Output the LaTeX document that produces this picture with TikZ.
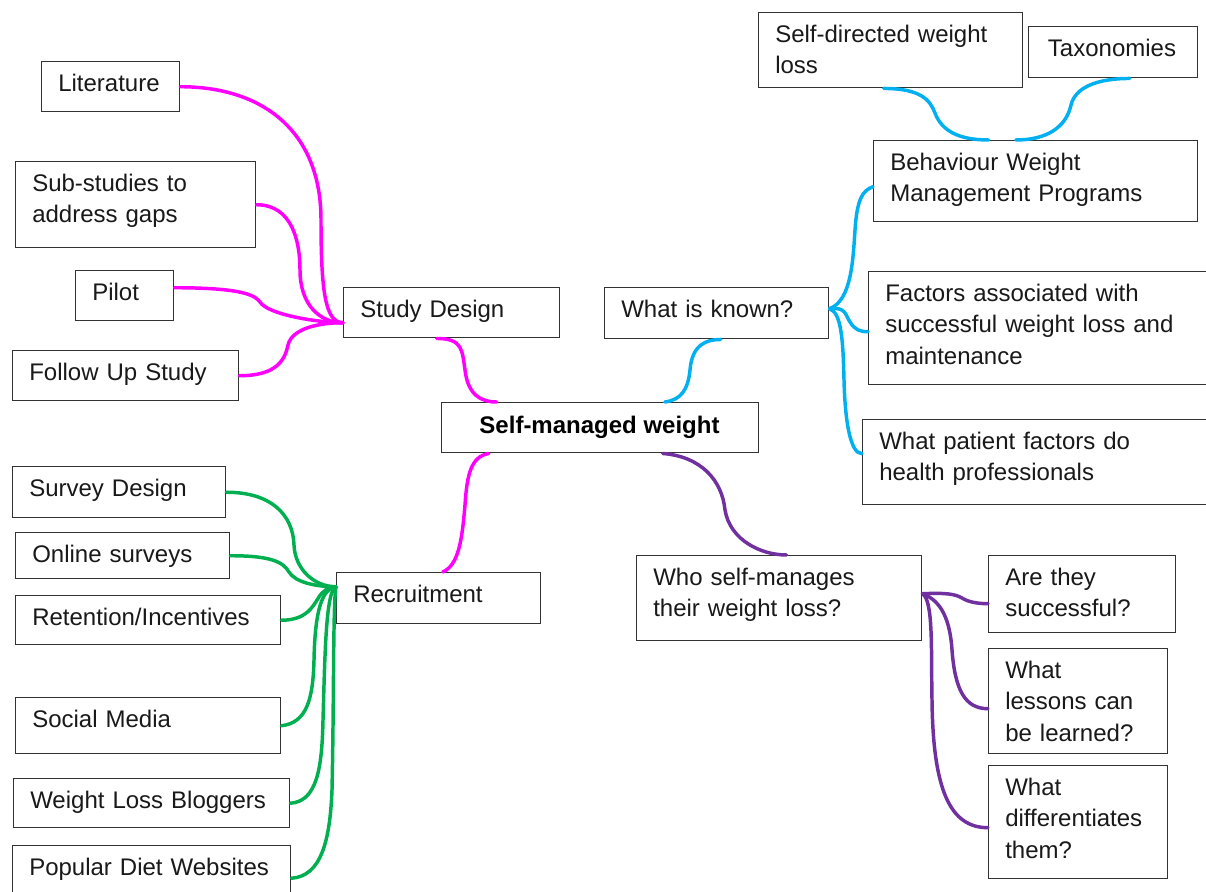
\documentclass[tikz,border=0pt]{standalone}
\usepackage{fontspec}
\setmainfont{Liberation Sans}
\usetikzlibrary{calc}
\definecolor{mag}{HTML}{FF00FF}
\definecolor{cya}{HTML}{00B0F0}
\definecolor{grn}{HTML}{00B050}
\definecolor{pur}{HTML}{7030A0}
\definecolor{edge}{HTML}{333333}
\tikzset{
  box/.style={draw=edge, line width=1.1pt, rectangle, anchor=north west, inner sep=0pt},
  txt/.style={font=\fontsize{18}{23.6}\selectfont, inner sep=0pt, anchor=base west, align=left, text width=12cm, text=black!90},
  conn/.style={line width=2.6pt, line cap=round},
  pk/.style={conn, draw=mag},
  cy/.style={conn, draw=cya},
  gr/.style={conn, draw=grn},
  pu/.style={conn, draw=pur}
}
\newcommand\mmbox[6]{%
  \node[box, minimum width={(#4-#2)*0.75pt}, minimum height={(#5-#3)*0.75pt}] (#1) at (#2,#3) {};
  \node[txt] (#1-t) at (#2+17,#3+30.5) {#6};}
\begin{document}
\begin{tikzpicture}[x=0.75pt, y=-0.75pt]
\useasboundingbox (0,0) rectangle (1206,892);
\clip (0,0) rectangle (1206,892);
\fill[white] (0,0) rectangle (1206,892);

% left top cluster
\mmbox{lit}{41}{61}{179}{111}{Literature}
\mmbox{sub}{15}{161}{255}{247}{Sub-studies to\\address gaps}
\mmbox{pilot}{75}{270}{173}{320}{Pilot}
\mmbox{fol}{12}{350}{238}{400}{Follow Up Study}
\mmbox{study}{343}{287}{559}{337}{Study Design}

% right top cluster
\mmbox{wk}{604}{287}{828}{338}{What is known?}
\mmbox{sd}{758}{12}{1022}{87}{Self-directed weight\\loss}
\mmbox{tax}{1028}{26}{1197}{77}{\hspace*{2pt}Taxonomies}
\mmbox{bwm}{873}{140}{1197}{221}{Behaviour Weight\\Management Programs}
\mmbox{fac}{868}{271}{1215}{384}{Factors associated with\\successful weight loss and\\maintenance}
\mmbox{pat}{862}{419}{1215}{504}{What patient factors do\\health professionals}

% centre
\node[box, minimum width={(758-441)*0.75pt}, minimum height={(452-402)*0.75pt}] (self) at (441,402) {};
\node[font=\fontsize{18}{23.6}\selectfont\bfseries, inner sep=0pt, anchor=base] (self-t) at (599.5,433) {Self-managed weight};

% bottom left cluster
\mmbox{sur}{12}{466}{225}{517}{Survey Design}
\mmbox{onl}{15}{532}{229}{578}{Online surveys}
\mmbox{ret}{15}{595}{280}{644}{Retention/Incentives}
\mmbox{soc}{15}{697}{280}{753}{Social Media}
\mmbox{blo}{13}{778}{289}{827}{Weight Loss Bloggers}
\mmbox{pop}{12}{845}{290}{910}{Popular Diet Websites}
\mmbox{recr}{336}{572}{540}{623}{Recruitment}

% bottom right cluster
\mmbox{who}{636}{555}{921}{640}{Who self-manages\\their weight loss?}
\mmbox{are}{988}{555}{1175}{632}{Are they\\successful?}
\mmbox{les}{988}{648}{1167}{753}{What\\lessons can\\be learned?}
\mmbox{dif}{988}{765}{1167}{878}{What\\differentiates\\them?}

% hubs
\coordinate (h1) at ([yshift=-7.5pt]study.west);
\coordinate (h2) at ([yshift=3.4pt]wk.east);
\coordinate (h3) at ([yshift=3.4pt]who.east);
\coordinate (h4) at ([yshift=8.6pt]recr.west);

% magenta
\draw[pk] (lit.east) .. controls +(81,0) and (321,130) .. (321,220) .. controls (321,290) and +(-18,0) .. (h1);
\draw[pk] (sub.east) .. controls +(35,0) and (300,240) .. (300,270) .. controls (300,305) and +(-23,0) .. (h1);
\draw[pk] ([yshift=6pt]pilot.east) .. controls +(67,0) and (255,295) .. (260,302) .. controls (268,315) and +(-23,0) .. (h1);
\draw[pk] (fol.east) .. controls +(37,0) and (285,360) .. (288,345) .. controls (292,328) and +(-23,0) .. (h1);
\draw[pk] ([xshift=-11.25pt]study.south) .. controls +(26,0) and (462,350) .. (465,370) .. controls (468,395) and +(-16,0) .. ([xshift=-77.6pt]self.north);
\draw[pk] ([xshift=-83.6pt]self.south) .. controls +(-18,3) and (467,475) .. (465,505) .. controls (462,540) and +(16,-7) .. ([xshift=3pt]recr.north);

% cyan
\draw[cy] ([xshift=48.4pt]self.north) .. controls +(16,-2) and (688,390) .. (690,370) .. controls (692,345) and +(-15,0) .. ([xshift=3pt]wk.south);
\draw[cy] (h2) .. controls +(22,-8) and (853,260) .. (855,230) .. controls (857,200) and +(-11,4) .. ([yshift=-4.1pt]bwm.west);
\draw[cy] (h2) .. controls +(17,-2) and (845,315) .. (850,322) .. controls (855,330) and +(-8,0) .. ([yshift=-2.6pt]fac.west);
\draw[cy] (h2) .. controls +(12,4) and (843,340) .. (844,380) .. controls (845,420) and +(-12,0) .. ([yshift=6.4pt]pat.west);
\draw[cy] ([xshift=-5.25pt]sd.south) .. controls +(37,0) and (930,100) .. (935,113) .. controls (942,132) and +(-28,0) .. ([xshift=-35.25pt]bwm.north);
\draw[cy] ([xshift=12.4pt]tax.south) .. controls +(-34,0) and (1075,88) .. (1071,105) .. controls (1066,128) and +(30,0) .. ([xshift=-15pt]bwm.north);

% purple
\draw[pu] ([xshift=46.9pt]self.south) .. controls +(38,3) and (722,480) .. (725,510) .. controls (730,540) and +(-26,0) .. ([xshift=5.6pt]who.north);
\draw[pu] (h3) .. controls +(24,-1) and (955,594) .. (962,598) .. controls (968,602) and +(-10,0) .. ([yshift=-7.1pt]are.west);
\draw[pu] (h3) .. controls +(19,7) and (950,620) .. (952,650) .. controls (955,690) and +(-23,0) .. ([yshift=-5.6pt]les.west);
\draw[pu] (h3) .. controls +(11,7) and (931,650) .. (932,700) .. controls (933,790) and +(-38,0) .. ([yshift=-4.1pt]dif.west);

% green
\draw[gr] (sur.east) .. controls +(45,0) and (293,515) .. (294,545) .. controls (295,570) and +(-21,0) .. (h4);
\draw[gr] (onl.east) .. controls +(41,0) and (283,562) .. (289,572) .. controls (295,582) and +(-21,0) .. (h4);
\draw[gr] (ret.east) .. controls +(30,0) and (315,600) .. (322,593) .. controls (327,588) and +(-4,0) .. (h4);
\draw[gr] (soc.east) .. controls +(25,-3) and (313,700) .. (314,660) .. controls (315,610) and +(-14,2) .. (h4);
\draw[gr] (blo.east) .. controls +(26,-2) and (322,770) .. (323,720) .. controls (325,650) and +(-10,4) .. (h4);
\draw[gr] (pop.east) .. controls +(30,-2) and (330,840) .. (332,790) .. controls (334,700) and +(-3,14) .. (h4);
\end{tikzpicture}
\end{document}
